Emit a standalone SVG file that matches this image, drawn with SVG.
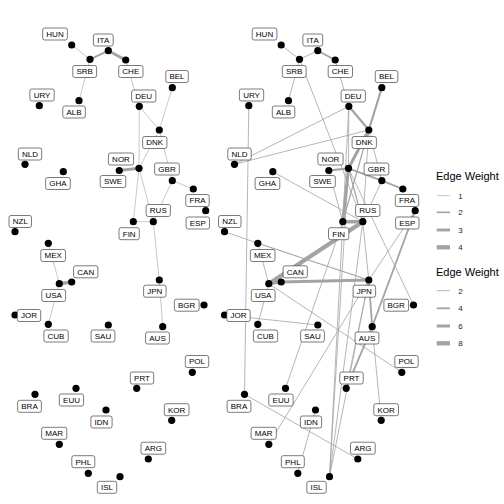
<svg xmlns="http://www.w3.org/2000/svg" xmlns:xlink="http://www.w3.org/1999/xlink" width="504" height="504" viewBox="0 0 504 504">
<style>
.e{stroke:#a3a3a3;fill:none}
.w1{stroke-width:0.6}
.v1{stroke-width:0.8}
.dot{fill:#000}
.lb{fill:#fff;stroke:#222;stroke-width:0.6}
.t{font-family:"Liberation Sans",Arial,sans-serif;font-size:8px;fill:#000;text-anchor:middle}
.lt{font-family:"Liberation Sans",Arial,sans-serif;font-size:11px;fill:#000}
.ln{font-family:"Liberation Sans",Arial,sans-serif;font-size:8px;fill:#222}
</style>
<rect width="504" height="504" fill="#fff"/>
<g id="edges-left">
<line class="e w1" x1="71.7" y1="45" x2="90" y2="59.3"/>
<line class="e" stroke-width="2" x1="90" y1="59.3" x2="108.3" y2="50.7"/>
<line class="e" stroke-width="2.9" x1="108.3" y1="50.7" x2="125.7" y2="60"/>
<line class="e w1" x1="90" y1="59.3" x2="79" y2="100.7"/>
<line class="e w1" x1="125.7" y1="60" x2="139.3" y2="106.3"/>
<line class="e w1" x1="172.3" y1="87.7" x2="159.3" y2="130"/>
<line class="e w1" x1="139.3" y1="106.3" x2="159.3" y2="130"/>
<line class="e w1" x1="139.3" y1="106.3" x2="139" y2="168.3"/>
<line class="e w1" x1="159.3" y1="130" x2="139" y2="168.3"/>
<line class="e w1" x1="159.3" y1="130" x2="172.3" y2="180.7"/>
<line class="e" stroke-width="2.9" x1="139" y1="168.3" x2="119.3" y2="170.5"/>
<line class="e w1" x1="139" y1="168.3" x2="133.3" y2="221.7"/>
<line class="e w1" x1="139" y1="168.3" x2="153.3" y2="221.7"/>
<line class="e w1" x1="172.3" y1="180.7" x2="153.3" y2="221.7"/>
<line class="e w1" x1="172.3" y1="180.7" x2="193.3" y2="189"/>
<line class="e w1" x1="133.3" y1="221.7" x2="153.3" y2="221.7"/>
<line class="e w1" x1="153.3" y1="221.7" x2="159.3" y2="280"/>
<line class="e w1" x1="159.3" y1="280" x2="162.7" y2="326.7"/>
<line class="e w1" x1="48.3" y1="243.3" x2="59.3" y2="283.7"/>
<line class="e" stroke-width="3.5" x1="59.3" y1="283.7" x2="71.7" y2="282"/>
<line class="e w1" x1="59.3" y1="283.7" x2="48.3" y2="324.3"/>
</g>
<g id="edges-right" transform="translate(209.5,0)">
<line class="e v1" x1="71.7" y1="45" x2="90" y2="59.3"/>
<line class="e v1" x1="90" y1="59.3" x2="108.3" y2="50.7"/>
<line class="e" stroke-width="1.8" x1="108.3" y1="50.7" x2="125.7" y2="60"/>
<line class="e v1" x1="90" y1="59.3" x2="79" y2="100.7"/>
<line class="e v1" x1="90" y1="59.3" x2="153.3" y2="221.7"/>
<line class="e v1" x1="125.7" y1="60" x2="139.3" y2="106.3"/>
<line class="e" stroke-width="2.2" x1="172.3" y1="87.7" x2="159.3" y2="130"/>
<line class="e" stroke-width="2.2" x1="139.3" y1="106.3" x2="159.3" y2="130"/>
<line class="e v1" x1="139.3" y1="106.3" x2="25" y2="164.3"/>
<line class="e v1" x1="159.3" y1="130" x2="25" y2="164.3"/>
<line class="e v1" x1="39.3" y1="105.7" x2="35" y2="394.3"/>
<line class="e v1" x1="139.3" y1="106.3" x2="139" y2="168.3"/>
<line class="e v1" x1="139.3" y1="106.3" x2="133.3" y2="221.7"/>
<line class="e" stroke-width="3" x1="159.3" y1="130" x2="139" y2="168.3"/>
<line class="e" stroke-width="1.2" x1="159.3" y1="130" x2="133.3" y2="221.7"/>
<line class="e v1" x1="159.3" y1="130" x2="153.3" y2="221.7"/>
<line class="e v1" x1="159.3" y1="130" x2="172.3" y2="180.7"/>
<line class="e" stroke-width="2.2" x1="139" y1="168.3" x2="119.3" y2="170.5"/>
<line class="e" stroke-width="1.8" x1="139" y1="168.3" x2="172.3" y2="180.7"/>
<line class="e" stroke-width="1.8" x1="172.3" y1="180.7" x2="193.3" y2="189"/>
<line class="e" stroke-width="3" x1="139" y1="168.3" x2="133.3" y2="221.7"/>
<line class="e" stroke-width="1.2" x1="139" y1="168.3" x2="153.3" y2="221.7"/>
<line class="e v1" x1="172.3" y1="180.7" x2="153.3" y2="221.7"/>
<line class="e" stroke-width="3.5" x1="133.3" y1="221.7" x2="153.3" y2="221.7"/>
<line class="e" stroke-width="4.3" x1="153.3" y1="221.7" x2="59.3" y2="283.7"/>
<line class="e" stroke-width="3" x1="59.3" y1="283.7" x2="71.7" y2="282"/>
<line class="e" stroke-width="3" x1="71.7" y1="282" x2="159.3" y2="280"/>
<line class="e v1" x1="48.3" y1="243.3" x2="59.3" y2="283.7"/>
<line class="e v1" x1="15" y1="231.7" x2="48.3" y2="243.3"/>
<line class="e" stroke-width="1.2" x1="48.3" y1="243.3" x2="159.3" y2="280"/>
<line class="e v1" x1="59.3" y1="283.7" x2="48.3" y2="324.3"/>
<line class="e v1" x1="59.3" y1="283.7" x2="192.3" y2="372.3"/>
<line class="e v1" x1="15" y1="315" x2="108.3" y2="325"/>
<line class="e" stroke-width="1.8" x1="159.3" y1="280" x2="162.7" y2="326.7"/>
<line class="e" stroke-width="1.8" x1="205.7" y1="210.7" x2="162.7" y2="326.7"/>
<line class="e v1" x1="205.7" y1="210.7" x2="159.3" y2="280"/>
<line class="e v1" x1="139" y1="168.3" x2="204" y2="305"/>
<line class="e v1" x1="63.3" y1="171.7" x2="153.3" y2="221.7"/>
<line class="e v1" x1="76" y1="388.3" x2="133.3" y2="221.7"/>
<line class="e v1" x1="59.3" y1="444.3" x2="159.3" y2="280"/>
<line class="e v1" x1="106" y1="410" x2="88.3" y2="473.3"/>
<line class="e v1" x1="35" y1="394.3" x2="148.3" y2="459"/>
<line class="e v1" x1="171.7" y1="420.3" x2="162.7" y2="326.7"/>
<line class="e" stroke-width="1.8" x1="162.7" y1="326.7" x2="136.7" y2="388.3"/>
<line class="e v1" x1="159.3" y1="280" x2="136.7" y2="388.3"/>
<line class="e v1" x1="120" y1="476.7" x2="133.3" y2="221.7"/>
<line class="e v1" x1="120" y1="476.7" x2="139" y2="168.3"/>
<line class="e v1" x1="120" y1="476.7" x2="153.3" y2="221.7"/>
<line class="e v1" x1="120" y1="476.7" x2="159.3" y2="280"/>
<line class="e v1" x1="119.3" y1="170.5" x2="133.3" y2="221.7"/>
<line class="e v1" x1="153.3" y1="221.7" x2="159.3" y2="280"/>
</g>
<defs>
<g id="nodes">
<g id="HUN"><circle class="dot" cx="71.7" cy="45" r="3.6"/><rect class="lb" x="42.7" y="28" width="24.7" height="12" rx="2"/><text class="t" x="55" y="36.9">HUN</text></g>
<g id="ITA"><circle class="dot" cx="108.3" cy="50.7" r="3.6"/><rect class="lb" x="93.4" y="34" width="19.8" height="12" rx="2"/><text class="t" x="103.3" y="42.9">ITA</text></g>
<g id="SRB"><circle class="dot" cx="90" cy="59.3" r="3.6"/><rect class="lb" x="72.8" y="65.5" width="23.8" height="12" rx="2"/><text class="t" x="84.7" y="74.4">SRB</text></g>
<g id="CHE"><circle class="dot" cx="125.7" cy="60" r="3.6"/><rect class="lb" x="118.7" y="65.5" width="24.3" height="12" rx="2"/><text class="t" x="130.8" y="74.4">CHE</text></g>
<g id="BEL"><circle class="dot" cx="172.3" cy="87.7" r="3.6"/><rect class="lb" x="165.8" y="70.5" width="22.5" height="12" rx="2"/><text class="t" x="177" y="79.4">BEL</text></g>
<g id="URY"><circle class="dot" cx="39.3" cy="105.7" r="3.6"/><rect class="lb" x="29.9" y="89" width="24.3" height="12" rx="2"/><text class="t" x="42" y="97.9">URY</text></g>
<g id="DEU"><circle class="dot" cx="139.3" cy="106.3" r="3.6"/><rect class="lb" x="131.6" y="90" width="24.3" height="12" rx="2"/><text class="t" x="143.7" y="98.9">DEU</text></g>
<g id="ALB"><circle class="dot" cx="79" cy="100.7" r="3.6"/><rect class="lb" x="62.8" y="106" width="22.5" height="12" rx="2"/><text class="t" x="74" y="114.9">ALB</text></g>
<g id="DNK"><circle class="dot" cx="159.3" cy="130" r="3.6"/><rect class="lb" x="142.6" y="136.5" width="24.3" height="12" rx="2"/><text class="t" x="154.7" y="145.4">DNK</text></g>
<g id="NLD"><circle class="dot" cx="25" cy="164.3" r="3.6"/><rect class="lb" x="18.3" y="148" width="23.4" height="12" rx="2"/><text class="t" x="30" y="156.9">NLD</text></g>
<g id="NOR"><circle class="dot" cx="139" cy="168.3" r="3.6"/><rect class="lb" x="108.4" y="153" width="25.2" height="12" rx="2"/><text class="t" x="121" y="161.9">NOR</text></g>
<g id="SWE"><circle class="dot" cx="119.3" cy="170.5" r="3.6"/><rect class="lb" x="100.2" y="175.5" width="25.6" height="12" rx="2"/><text class="t" x="113" y="184.4">SWE</text></g>
<g id="GHA"><circle class="dot" cx="63.3" cy="171.7" r="3.6"/><rect class="lb" x="45.6" y="177.5" width="24.7" height="12" rx="2"/><text class="t" x="58" y="186.4">GHA</text></g>
<g id="GBR"><circle class="dot" cx="172.3" cy="180.7" r="3.6"/><rect class="lb" x="154.6" y="163" width="24.7" height="12" rx="2"/><text class="t" x="167" y="171.9">GBR</text></g>
<g id="FRA"><circle class="dot" cx="193.3" cy="189" r="3.6"/><rect class="lb" x="185.8" y="194.5" width="23.4" height="12" rx="2"/><text class="t" x="197.5" y="203.4">FRA</text></g>
<g id="ESP"><circle class="dot" cx="205.7" cy="210.7" r="3.6"/><rect class="lb" x="186.1" y="217" width="23.4" height="12" rx="2"/><text class="t" x="197.8" y="225.9">ESP</text></g>
<g id="RUS"><circle class="dot" cx="153.3" cy="221.7" r="3.6"/><rect class="lb" x="146.1" y="204.5" width="24.3" height="12" rx="2"/><text class="t" x="158.3" y="213.4">RUS</text></g>
<g id="FIN"><circle class="dot" cx="133.3" cy="221.7" r="3.6"/><rect class="lb" x="119" y="227.7" width="20.3" height="12" rx="2"/><text class="t" x="129.2" y="236.6">FIN</text></g>
<g id="NZL"><circle class="dot" cx="15" cy="231.7" r="3.6"/><rect class="lb" x="9" y="215.5" width="22.5" height="12" rx="2"/><text class="t" x="20.3" y="224.4">NZL</text></g>
<g id="MEX"><circle class="dot" cx="48.3" cy="243.3" r="3.6"/><rect class="lb" x="40.8" y="249.5" width="24.7" height="12" rx="2"/><text class="t" x="53.2" y="258.4">MEX</text></g>
<g id="CAN"><circle class="dot" cx="71.7" cy="282" r="3.6"/><rect class="lb" x="73.6" y="265.8" width="24.3" height="12" rx="2"/><text class="t" x="85.8" y="274.7">CAN</text></g>
<g id="USA"><circle class="dot" cx="59.3" cy="283.7" r="3.6"/><rect class="lb" x="41.8" y="289.5" width="23.8" height="12" rx="2"/><text class="t" x="53.7" y="298.4">USA</text></g>
<g id="JPN"><circle class="dot" cx="159.3" cy="280" r="3.6"/><rect class="lb" x="143.6" y="285.2" width="22.5" height="12" rx="2"/><text class="t" x="154.8" y="294.1">JPN</text></g>
<g id="BGR"><circle class="dot" cx="204" cy="305" r="3.6"/><rect class="lb" x="174.4" y="299.2" width="24.7" height="12" rx="2"/><text class="t" x="186.7" y="308.1">BGR</text></g>
<g id="JOR"><circle class="dot" cx="15" cy="315" r="3.6"/><rect class="lb" x="17.3" y="309.5" width="23.4" height="12" rx="2"/><text class="t" x="29" y="318.4">JOR</text></g>
<g id="CUB"><circle class="dot" cx="48.3" cy="324.3" r="3.6"/><rect class="lb" x="43.9" y="330" width="24.3" height="12" rx="2"/><text class="t" x="56" y="338.9">CUB</text></g>
<g id="SAU"><circle class="dot" cx="108.3" cy="325" r="3.6"/><rect class="lb" x="91.1" y="330" width="23.8" height="12" rx="2"/><text class="t" x="103" y="338.9">SAU</text></g>
<g id="AUS"><circle class="dot" cx="162.7" cy="326.7" r="3.6"/><rect class="lb" x="145.6" y="332" width="23.8" height="12" rx="2"/><text class="t" x="157.5" y="340.9">AUS</text></g>
<g id="POL"><circle class="dot" cx="192.3" cy="372.3" r="3.6"/><rect class="lb" x="185.3" y="355.5" width="23.4" height="12" rx="2"/><text class="t" x="197" y="364.4">POL</text></g>
<g id="PRT"><circle class="dot" cx="136.7" cy="388.3" r="3.6"/><rect class="lb" x="130.3" y="372" width="23.4" height="12" rx="2"/><text class="t" x="142" y="380.9">PRT</text></g>
<g id="BRA"><circle class="dot" cx="35" cy="394.3" r="3.6"/><rect class="lb" x="17.6" y="400.3" width="23.8" height="12" rx="2"/><text class="t" x="29.5" y="409.2">BRA</text></g>
<g id="EUU"><circle class="dot" cx="76" cy="388.3" r="3.6"/><rect class="lb" x="59.3" y="394" width="24.3" height="12" rx="2"/><text class="t" x="71.5" y="402.9">EUU</text></g>
<g id="KOR"><circle class="dot" cx="171.7" cy="420.3" r="3.6"/><rect class="lb" x="164.3" y="403.7" width="24.7" height="12" rx="2"/><text class="t" x="176.7" y="412.6">KOR</text></g>
<g id="IDN"><circle class="dot" cx="106" cy="410" r="3.6"/><rect class="lb" x="90.9" y="416" width="21.2" height="12" rx="2"/><text class="t" x="101.5" y="424.9">IDN</text></g>
<g id="MAR"><circle class="dot" cx="59.3" cy="444.3" r="3.6"/><rect class="lb" x="41.6" y="427.3" width="25.2" height="12" rx="2"/><text class="t" x="54.2" y="436.2">MAR</text></g>
<g id="ARG"><circle class="dot" cx="148.3" cy="459" r="3.6"/><rect class="lb" x="141" y="442.2" width="24.7" height="12" rx="2"/><text class="t" x="153.3" y="451.1">ARG</text></g>
<g id="PHL"><circle class="dot" cx="88.3" cy="473.3" r="3.6"/><rect class="lb" x="71.8" y="455.7" width="23" height="12" rx="2"/><text class="t" x="83.3" y="464.6">PHL</text></g>
<g id="ISL"><circle class="dot" cx="120" cy="476.7" r="3.6"/><rect class="lb" x="97.3" y="481.3" width="19.4" height="12" rx="2"/><text class="t" x="107" y="490.2">ISL</text></g>
</g>
</defs>
<use id="nodes-left" xlink:href="#nodes"/>
<use id="nodes-right" xlink:href="#nodes" transform="translate(209.5,0)"/>
<g id="legend-1">
<text class="lt" x="436" y="179.5">Edge Weight</text>
<line class="e" stroke-width="0.6" x1="436.7" y1="195.7" x2="450" y2="195.7"/>
<line class="e" stroke-width="1.6" x1="436.7" y1="212.3" x2="450" y2="212.3"/>
<line class="e" stroke-width="2.9" x1="436.7" y1="230" x2="450" y2="230"/>
<line class="e" stroke-width="4.2" x1="436.7" y1="247.3" x2="450" y2="247.3"/>
<text class="ln" x="458.3" y="198.6">1</text>
<text class="ln" x="458.3" y="215.2">2</text>
<text class="ln" x="458.3" y="232.9">3</text>
<text class="ln" x="458.3" y="250.2">4</text>
</g>
<g id="legend-2">
<text class="lt" x="436" y="276">Edge Weight</text>
<line class="e" stroke-width="0.8" x1="436.7" y1="290.7" x2="450" y2="290.7"/>
<line class="e" stroke-width="1.8" x1="436.7" y1="308.3" x2="450" y2="308.3"/>
<line class="e" stroke-width="3" x1="436.7" y1="326" x2="450" y2="326"/>
<line class="e" stroke-width="4.3" x1="436.7" y1="343.3" x2="450" y2="343.3"/>
<text class="ln" x="458.3" y="293.6">2</text>
<text class="ln" x="458.3" y="311.2">4</text>
<text class="ln" x="458.3" y="328.9">6</text>
<text class="ln" x="458.3" y="346.2">8</text>
</g>
</svg>
